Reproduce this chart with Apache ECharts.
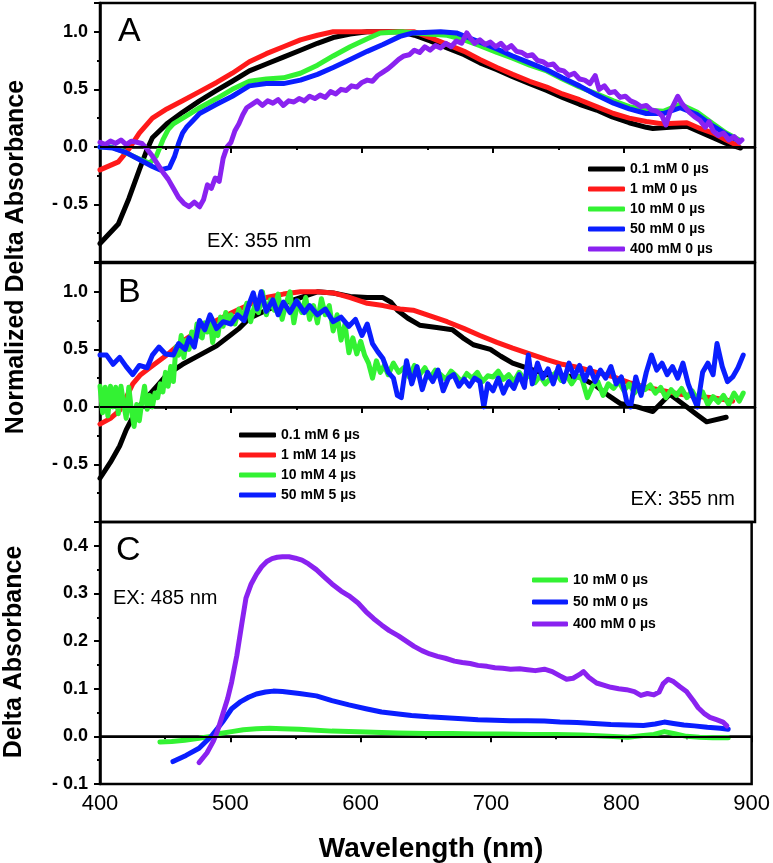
<!DOCTYPE html>
<html>
<head>
<meta charset="utf-8">
<script src="https://cdn.jsdelivr.net/npm/echarts@6/dist/echarts.min.js"></script>
<style>
  html, body { margin: 0; padding: 0; background: #fff; }
  #chart { width: 773px; height: 863px; }
</style>
</head>
<body>
<div id="chart"></div>
<script>
// 波长轴刻度
const xTicks = [400, 500, 600, 700, 800, 900]

// A: 0 µs 归一化光谱 (nm, value)
const a01mM = [[400,-0.84],[414,-0.67],[422,-0.45],[430,-0.2],[436,-0.02],[440,0.08],[451,0.2],[463,0.3],[476,0.4],[489,0.49],[501,0.57],[514,0.66],[527,0.72],[540,0.78],[553,0.84],[566,0.9],[578,0.95],[591,0.98],[604,1.0],[630,1.0],[640,0.97],[652,0.92],[665,0.86],[678,0.8],[690,0.73],[703,0.67],[715,0.61],[728,0.55],[741,0.49],[753,0.43],[766,0.37],[779,0.32],[791,0.26],[804,0.21],[817,0.17],[822,0.16],[835,0.17],[848,0.18],[858,0.13],[868,0.08],[878,0.03],[889,-0.01]]
const a1mM = [[400,-0.2],[414,-0.13],[422,-0.02],[430,0.12],[440,0.25],[451,0.33],[463,0.4],[476,0.48],[489,0.56],[501,0.64],[514,0.74],[527,0.81],[540,0.87],[553,0.93],[566,0.97],[578,1.0],[640,1.0],[652,0.95],[665,0.89],[678,0.83],[690,0.76],[703,0.69],[715,0.63],[728,0.57],[741,0.52],[753,0.46],[766,0.41],[779,0.35],[792,0.29],[804,0.25],[817,0.22],[830,0.2],[848,0.21],[858,0.16],[868,0.12],[878,0.06],[887,0.01]]
const a10mM = [[400,0.0],[408,0.0],[416,-0.03],[425,-0.08],[433,-0.12],[438,-0.14],[443,-0.08],[448,0.06],[452,0.15],[456,0.2],[466,0.27],[476,0.34],[489,0.42],[501,0.5],[514,0.57],[527,0.59],[540,0.6],[553,0.64],[566,0.71],[578,0.79],[591,0.87],[604,0.94],[614,0.99],[630,1.0],[650,0.98],[665,0.97],[678,0.93],[690,0.88],[703,0.82],[715,0.77],[728,0.71],[741,0.66],[753,0.59],[766,0.52],[779,0.46],[792,0.4],[804,0.35],[817,0.32],[830,0.31],[843,0.37],[856,0.3],[868,0.2],[878,0.12],[888,0.06]]
const a50mM = [[400,0.0],[410,-0.01],[420,-0.05],[430,-0.11],[440,-0.17],[446,-0.2],[453,-0.18],[457,-0.08],[460,0.03],[463,0.12],[466,0.17],[471,0.23],[476,0.29],[489,0.37],[501,0.44],[514,0.53],[527,0.55],[540,0.55],[553,0.58],[566,0.63],[578,0.69],[591,0.76],[604,0.83],[616,0.89],[629,0.96],[639,0.99],[660,1.0],[672,0.99],[681,0.95],[690,0.91],[703,0.85],[715,0.79],[728,0.73],[741,0.67],[753,0.6],[766,0.53],[779,0.45],[792,0.38],[804,0.33],[817,0.29],[830,0.29],[843,0.34],[856,0.28],[868,0.18],[878,0.11],[888,0.05]]
const a400mM = [[400,0.04],[404,0.02],[408,0.05],[412,0.03],[416,0.06],[420,0.02],[424,0.05],[428,0.04],[432,0.03],[436,-0.02],[440,-0.08],[444,-0.15],[448,-0.22],[452,-0.28],[456,-0.36],[460,-0.44],[464,-0.49],[468,-0.52],[472,-0.48],[476,-0.52],[479,-0.46],[482,-0.33],[485,-0.36],[488,-0.27],[491,-0.3],[494,-0.1],[497,0.0],[500,0.04],[503,0.14],[506,0.2],[509,0.28],[512,0.34],[516,0.37],[520,0.4],[524,0.36],[528,0.4],[532,0.38],[536,0.41],[540,0.36],[544,0.4],[548,0.39],[552,0.42],[556,0.4],[560,0.44],[564,0.42],[568,0.45],[572,0.43],[576,0.48],[580,0.46],[584,0.5],[588,0.49],[592,0.53],[596,0.52],[600,0.56],[604,0.58],[608,0.57],[612,0.62],[616,0.65],[620,0.68],[624,0.72],[628,0.76],[632,0.79],[636,0.8],[640,0.84],[644,0.82],[648,0.87],[652,0.84],[656,0.88],[660,0.86],[664,0.9],[668,0.87],[672,0.92],[676,0.9],[680,0.99],[683,0.94],[686,0.9],[690,0.93],[694,0.89],[698,0.91],[702,0.87],[706,0.9],[710,0.85],[714,0.88],[718,0.83],[722,0.82],[726,0.79],[730,0.8],[734,0.75],[738,0.74],[742,0.71],[746,0.72],[750,0.67],[754,0.66],[758,0.62],[762,0.64],[766,0.59],[770,0.58],[774,0.55],[778,0.62],[781,0.5],[785,0.53],[789,0.47],[793,0.48],[797,0.43],[801,0.44],[805,0.4],[809,0.38],[813,0.35],[817,0.36],[821,0.32],[825,0.31],[829,0.27],[832,0.19],[835,0.3],[838,0.37],[841,0.44],[844,0.38],[847,0.34],[850,0.3],[854,0.26],[858,0.23],[862,0.17],[865,0.22],[868,0.14],[872,0.1],[876,0.12],[880,0.06],[884,0.09],[888,0.04],[890,0.06]]

// B: 延迟光谱
const b01mM = [[400,-0.62],[408,-0.48],[415,-0.34],[420,-0.2],[425,-0.09],[431,0.02],[438,0.11],[445,0.2],[451,0.28],[463,0.37],[476,0.45],[489,0.53],[497,0.6],[506,0.68],[514,0.77],[527,0.84],[540,0.9],[553,0.95],[566,1.0],[578,0.99],[591,0.96],[604,0.95],[616,0.95],[622,0.91],[627,0.84],[635,0.77],[644,0.71],[657,0.69],[669,0.67],[677,0.6],[685,0.54],[698,0.5],[706,0.44],[715,0.38],[728,0.33],[741,0.28],[753,0.27],[766,0.26],[779,0.18],[788,0.1],[797,0.03],[810,0.0],[822,-0.04],[835,0.11],[848,0.0],[856,-0.07],[863,-0.13],[878,-0.09]]
const b1mM = [[400,-0.15],[408,-0.1],[415,-0.03],[420,0.08],[425,0.2],[431,0.28],[438,0.34],[451,0.45],[463,0.57],[476,0.67],[489,0.75],[501,0.82],[514,0.89],[527,0.95],[540,0.98],[553,1.0],[566,1.0],[578,0.99],[591,0.95],[604,0.9],[616,0.88],[629,0.85],[639,0.84],[652,0.79],[665,0.74],[678,0.68],[690,0.62],[703,0.56],[715,0.51],[728,0.46],[741,0.41],[753,0.37],[766,0.34],[779,0.3],[792,0.26],[804,0.21],[817,0.17],[830,0.14],[843,0.11],[856,0.09],[868,0.08],[883,0.05]]
const b10mM = [[400,0.18],[402,-0.05],[404,0.17],[406,-0.08],[408,0.18],[410,0.0],[412,0.17],[414,-0.06],[416,0.18],[418,0.03],[420,-0.1],[422,0.17],[424,-0.03],[426,-0.17],[428,0.02],[430,-0.12],[432,0.05],[434,0.18],[436,-0.02],[438,0.1],[440,0.0],[442,0.12],[444,0.08],[446,0.2],[448,0.13],[450,0.3],[452,0.18],[454,0.35],[456,0.22],[458,0.52],[460,0.45],[462,0.62],[464,0.43],[466,0.58],[468,0.5],[470,0.65],[472,0.55],[474,0.72],[476,0.62],[478,0.6],[480,0.73],[482,0.65],[484,0.75],[486,0.56],[488,0.7],[490,0.62],[492,0.78],[494,0.7],[496,0.82],[498,0.74],[500,0.8],[503,0.72],[506,0.85],[509,0.76],[512,0.9],[515,0.74],[518,0.88],[521,0.82],[524,1.0],[527,0.8],[530,0.93],[533,0.84],[536,0.98],[539,0.76],[542,0.9],[545,1.0],[548,0.73],[551,0.92],[554,0.82],[557,0.95],[560,0.76],[563,0.88],[566,0.73],[569,0.94],[572,0.8],[575,0.88],[578,0.66],[581,0.8],[584,0.58],[587,0.72],[590,0.47],[593,0.6],[596,0.46],[599,0.57],[602,0.45],[605,0.38],[608,0.25],[611,0.4],[614,0.3],[617,0.36],[620,0.28],[624,0.38],[628,0.3],[632,0.34],[636,0.26],[640,0.36],[644,0.28],[648,0.34],[652,0.25],[656,0.32],[660,0.28],[664,0.24],[668,0.31],[672,0.27],[676,0.22],[680,0.29],[684,0.25],[688,0.3],[692,0.22],[696,0.27],[700,0.26],[704,0.31],[708,0.24],[712,0.28],[716,0.22],[720,0.3],[724,0.24],[728,0.28],[732,0.21],[736,0.27],[740,0.2],[744,0.25],[748,0.3],[752,0.23],[756,0.28],[760,0.2],[764,0.27],[768,0.24],[772,0.08],[776,0.18],[780,0.22],[784,0.1],[788,0.2],[792,0.16],[796,0.22],[800,0.14],[804,0.2],[808,0.12],[812,0.18],[816,0.15],[820,0.19],[824,0.12],[828,0.17],[832,0.08],[836,0.15],[840,0.1],[844,0.16],[848,0.08],[852,0.14],[856,0.06],[860,0.13],[864,0.02],[868,0.09],[872,0.04],[876,0.1],[880,0.02],[884,0.12],[888,0.05],[891,0.12]]
const b50mM = [[400,0.45],[405,0.45],[410,0.37],[415,0.43],[420,0.35],[425,0.28],[430,0.36],[436,0.34],[440,0.45],[445,0.52],[450,0.46],[456,0.45],[460,0.55],[465,0.5],[468,0.6],[472,0.52],[476,0.75],[480,0.67],[484,0.8],[489,0.68],[494,0.74],[500,0.72],[505,0.8],[510,0.75],[514,0.9],[517,0.99],[520,0.85],[523,1.0],[527,0.83],[532,0.93],[536,0.8],[540,0.91],[545,0.82],[550,0.92],[556,0.82],[560,0.88],[566,0.8],[572,0.85],[578,0.74],[584,0.78],[590,0.7],[595,0.76],[600,0.62],[604,0.72],[608,0.55],[612,0.48],[616,0.42],[620,0.3],[624,0.25],[627,0.1],[630,0.08],[634,0.4],[638,0.2],[642,0.35],[646,0.15],[650,0.3],[654,0.22],[658,0.32],[662,0.14],[666,0.25],[670,0.28],[674,0.18],[678,0.24],[682,0.18],[686,0.25],[690,0.22],[693,0.0],[696,0.2],[700,0.14],[704,0.25],[708,0.12],[712,0.22],[716,0.16],[720,0.28],[724,0.17],[727,0.45],[730,0.2],[734,0.38],[738,0.25],[742,0.33],[746,0.2],[750,0.35],[754,0.22],[758,0.38],[762,0.26],[766,0.36],[770,0.23],[774,0.34],[778,0.22],[782,0.32],[786,0.25],[790,0.35],[794,0.2],[798,0.26],[802,0.05],[805,0.0],[809,0.26],[813,0.1],[817,0.3],[821,0.45],[825,0.32],[829,0.38],[833,0.28],[837,0.35],[841,0.25],[845,0.38],[849,0.2],[853,0.08],[856,0.0],[860,0.3],[864,0.38],[868,0.28],[871,0.55],[875,0.35],[879,0.22],[883,0.26],[887,0.34],[891,0.45]]

// C: 485 nm 激发, 未归一化
const c10mM = [[446,-0.012],[455,-0.011],[465,-0.008],[476,-0.004],[485,0.0],[492,0.006],[501,0.01],[510,0.014],[520,0.016],[530,0.017],[540,0.016],[553,0.015],[566,0.013],[578,0.011],[591,0.01],[604,0.009],[616,0.008],[629,0.007],[650,0.006],[670,0.006],[690,0.005],[710,0.005],[730,0.004],[750,0.004],[770,0.003],[790,0.0],[805,-0.002],[817,0.002],[825,0.004],[833,0.01],[840,0.006],[850,0.0],[860,-0.002],[870,-0.003],[882,-0.003]]
const c50mM = [[456,-0.053],[466,-0.04],[476,-0.025],[486,0.002],[494,0.03],[501,0.058],[508,0.073],[514,0.082],[520,0.089],[527,0.093],[533,0.095],[540,0.094],[553,0.09],[566,0.085],[578,0.075],[591,0.066],[604,0.058],[616,0.051],[629,0.047],[639,0.044],[652,0.041],[665,0.039],[678,0.037],[690,0.035],[703,0.034],[715,0.033],[728,0.033],[741,0.032],[753,0.03],[766,0.029],[779,0.027],[792,0.025],[804,0.024],[817,0.023],[826,0.026],[833,0.03],[840,0.027],[848,0.024],[856,0.022],[866,0.019],[876,0.017],[882,0.015]]
const c400mM = [[476,-0.055],[482,-0.035],[487,-0.01],[490,0.01],[494,0.045],[498,0.08],[501,0.114],[505,0.17],[509,0.24],[512,0.29],[516,0.32],[520,0.34],[524,0.356],[528,0.367],[532,0.373],[536,0.376],[540,0.377],[545,0.377],[550,0.374],[555,0.37],[560,0.362],[566,0.35],[572,0.335],[578,0.32],[585,0.305],[591,0.295],[598,0.28],[604,0.262],[610,0.247],[616,0.234],[622,0.222],[629,0.211],[635,0.2],[641,0.189],[647,0.18],[653,0.173],[659,0.168],[665,0.164],[672,0.158],[678,0.155],[684,0.153],[690,0.149],[697,0.147],[703,0.144],[709,0.143],[715,0.141],[722,0.142],[728,0.14],[734,0.138],[741,0.141],[747,0.136],[753,0.127],[758,0.12],[763,0.122],[768,0.13],[771,0.136],[775,0.124],[781,0.112],[787,0.107],[792,0.103],[798,0.1],[804,0.098],[810,0.094],[815,0.086],[820,0.09],[825,0.087],[829,0.093],[832,0.11],[836,0.12],[840,0.115],[845,0.104],[850,0.094],[855,0.076],[859,0.06],[864,0.047],[868,0.04],[873,0.035],[878,0.03],[881,0.022]]

const names = {
  a: ['0.1 mM 0 µs', '1 mM 0 µs', '10 mM 0 µs', '50 mM 0 µs', '400 mM 0 µs'],
  b: ['0.1 mM 6 µs', '1 mM 14 µs', '10 mM 4 µs', '50 mM 5 µs'],
  c: ['10 mM 0 µs', '50 mM 0 µs', '400 mM 0 µs']
}

const BLACK = '#000000'
const RED = '#ff1a1a'
const GREEN = '#33f233'
const BLUE = '#0a1eff'
const PURPLE = '#8a22f0'
const FONT = 'Liberation Sans, Arial, sans-serif'

const myChart = echarts.init(document.getElementById('chart'), null, { renderer: 'canvas' })

// 三个面板共用 x 轴样式
const makeX = (idx, showLabel) => ({
  type: 'value',
  gridIndex: idx,
  min: 400,
  max: 900,
  interval: 100,
  axisLine: { lineStyle: { color: '#000', width: 2.5 } },
  axisTick: { show: true, inside: false, length: 6, lineStyle: { color: '#000', width: 2 } },
  minorTick: { show: true, splitNumber: 2, length: 3, lineStyle: { color: '#000', width: 2 } },
  splitLine: { show: false },
  axisLabel: {
    show: showLabel,
    margin: 9,
    color: '#000',
    fontSize: 22,
    fontFamily: FONT,
    formatter: (v) => (xTicks.includes(v) ? String(v) : '')
  }
})

const fmtY = (digits, lowest) => (v) => {
  if (v <= lowest + 1e-9) return ''
  if (Math.abs(v) < 1e-9) return (0).toFixed(digits)
  return v < 0 ? '- ' + Math.abs(v).toFixed(digits) : v.toFixed(digits)
}

const makeY = (idx, min, max, interval, lowestHidden) => ({
  type: 'value',
  gridIndex: idx,
  min: min,
  max: max,
  interval: interval,
  axisLine: { show: true, onZero: false, lineStyle: { color: '#000', width: 2.5 } },
  axisTick: { show: true, inside: false, length: 6, lineStyle: { color: '#000', width: 2 } },
  minorTick: { show: true, splitNumber: 2, length: 3, lineStyle: { color: '#000', width: 2 } },
  splitLine: { show: false },
  axisLabel: {
    margin: 12,
    color: '#000',
    fontSize: 18,
    fontWeight: 'bold',
    fontFamily: FONT,
    showMaxLabel: false,
    formatter: fmtY(1, lowestHidden)
  }
})

const zeroLine = {
  silent: true,
  symbol: 'none',
  label: { show: false },
  lineStyle: { color: '#000', width: 2, type: 'solid' },
  data: [{ yAxis: 0 }]
}

const line = (name, idx, data, color, width, withZero) => ({
  name: name,
  type: 'line',
  xAxisIndex: idx,
  yAxisIndex: idx,
  data: data,
  showSymbol: false,
  color: color,
  lineStyle: { color: color, width: width, join: 'round', cap: 'round' },
  markLine: withZero ? zeroLine : undefined
})

const legendText = { color: '#000', fontSize: 14, fontWeight: 'bold', fontFamily: FONT }

const options = {
  animation: false,
  backgroundColor: '#fff',
  grid: [
    { left: 100, top: 3, width: 655, height: 259, show: true, borderColor: '#000', borderWidth: 2.5 },
    { left: 100, top: 263, width: 655, height: 259, show: true, borderColor: '#000', borderWidth: 2.5 },
    { left: 100, top: 522, width: 655, height: 262, show: true, borderColor: '#000', borderWidth: 2.5 }
  ],
  xAxis: [makeX(0, false), makeX(1, false), makeX(2, true)],
  yAxis: [makeY(0, -1, 1.25, 0.5, -1), makeY(1, -1, 1.25, 0.5, -1), makeY(2, -0.1, 0.45, 0.1, -1)],
  legend: [
    {
      data: names.a, left: 583, top: 157, orient: 'vertical', itemGap: 6,
      itemWidth: 37, itemHeight: 5, icon: 'roundRect', selectedMode: false, textStyle: legendText
    },
    {
      data: names.b, left: 234, top: 423, orient: 'vertical', itemGap: 6,
      itemWidth: 37, itemHeight: 5, icon: 'roundRect', selectedMode: false, textStyle: legendText
    },
    {
      data: names.c, left: 527, top: 568, orient: 'vertical', itemGap: 8,
      itemWidth: 36, itemHeight: 5, icon: 'roundRect', selectedMode: false, textStyle: legendText
    }
  ],
  series: [
    line(names.a[0], 0, a01mM, BLACK, 5),
    line(names.a[1], 0, a1mM, RED, 5),
    line(names.a[2], 0, a10mM, GREEN, 5),
    line(names.a[3], 0, a50mM, BLUE, 5),
    line(names.a[4], 0, a400mM, PURPLE, 5, true),

    line(names.b[0], 1, b01mM, BLACK, 5),
    line(names.b[1], 1, b1mM, RED, 5),
    line(names.b[2], 1, b10mM, GREEN, 5),
    line(names.b[3], 1, b50mM, BLUE, 5, true),

    line(names.c[0], 2, c10mM, GREEN, 5),
    line(names.c[1], 2, c50mM, BLUE, 5),
    line(names.c[2], 2, c400mM, PURPLE, 5, true)
  ],
  graphic: [
    { type: 'text', left: 118, top: 15, style: { text: 'A', font: '34px ' + FONT, fill: '#000' } },
    { type: 'text', left: 118, top: 276, style: { text: 'B', font: '34px ' + FONT, fill: '#000' } },
    { type: 'text', left: 116, top: 534, style: { text: 'C', font: '34px ' + FONT, fill: '#000' } },
    { type: 'text', left: 207, top: 231, style: { text: 'EX: 355 nm', font: '20px ' + FONT, fill: '#000' } },
    { type: 'text', right: 38, top: 489, style: { text: 'EX: 355 nm', font: '20px ' + FONT, fill: '#000' } },
    { type: 'text', left: 113, top: 588, style: { text: 'EX: 485 nm', font: '20px ' + FONT, fill: '#000' } },
    {
      type: 'text', x: 16, y: 257, rotation: Math.PI / 2,
      style: { text: 'Normalized Delta Absorbance', font: 'bold 25px ' + FONT, fill: '#000', align: 'center', verticalAlign: 'middle' }
    },
    {
      type: 'text', x: 14, y: 652, rotation: Math.PI / 2,
      style: { text: 'Delta Absorbance', font: 'bold 25px ' + FONT, fill: '#000', align: 'center', verticalAlign: 'middle' }
    },
    {
      type: 'text', x: 431, y: 849,
      style: { text: 'Wavelength (nm)', font: 'bold 28px ' + FONT, fill: '#000', align: 'center', verticalAlign: 'middle' }
    }
  ]
}

myChart.setOption(options)
</script>
</body>
</html>
